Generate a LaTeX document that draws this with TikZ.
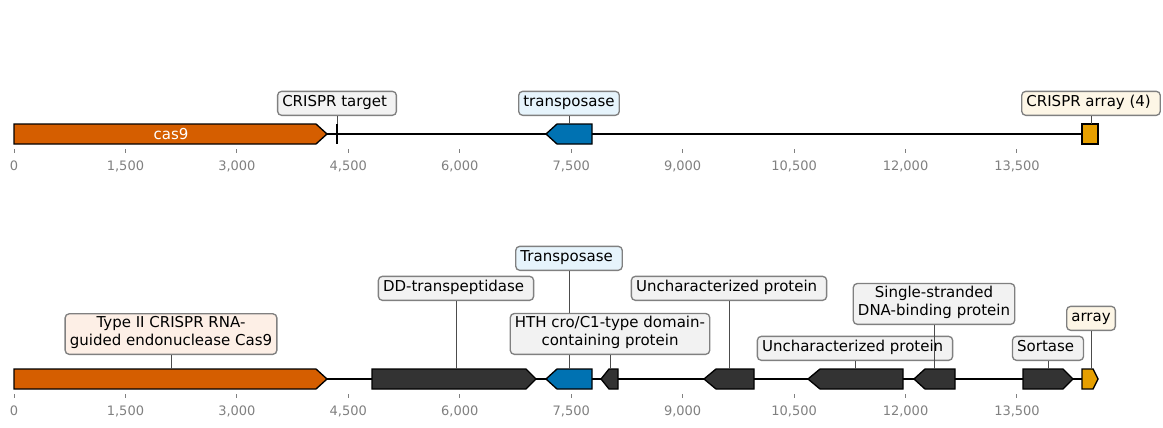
\documentclass[tikz,border=0pt]{standalone}
\usepackage{fontspec}
\setmainfont{DejaVu Sans}
\usepackage{xcolor}
\definecolor{CasOrange}{HTML}{D55E00}
\definecolor{TnpBlue}{HTML}{0072B2}
\definecolor{ArrGold}{HTML}{E69F00}
\definecolor{GeneDark}{HTML}{333333}
\definecolor{BoxGray}{HTML}{F2F2F2}
\definecolor{BoxBlue}{HTML}{E6F4FC}
\definecolor{BoxOrange}{HTML}{FDEFE6}
\definecolor{BoxGold}{HTML}{FDF6E6}
\usepackage{tikz}

\begin{document}
\begin{tikzpicture}[x=0.75pt, y=-0.75pt, line join=miter,
    gene/.style={draw=black, line width=1pt},
    track/.style={draw=black, line width=1.5pt},
    lbl/.style={
    draw=gray,
    fill=BoxGray,
    rounded corners=3pt,
    line width=1pt,
    anchor=south,
    align=center,
    inner xsep=3.5pt,
    inner ysep=2.25pt,
    font=\fontsize{11.25}{13.5}\selectfont,
    execute at begin node=\strut,
    execute at end node=\strut},
    link/.style={draw=black!70, line width=0.75pt},
    axtick/.style={draw=gray, line width=0.75pt},
    axlbl/.style={text=gray, font=\fontsize{9.75}{11.7}\selectfont}]
    \useasboundingbox (0,0) rectangle (1163,428);

    % backbones
    \draw[track] (14,134) -- (1098,134);
    \draw[track] (14,379) -- (1098,379);

    % axes
    \foreach \v/\txt in {0/0, 1500/{1,500}, 3000/{3,000}, 4500/{4,500}, 6000/{6,000},
                         7500/{7,500}, 9000/{9,000}, 10500/{10,500}, 12000/{12,000}, 13500/{13,500}} {
        \draw[axtick] ({14+\v*0.074296},149) -- ({14+\v*0.074296},153);
        \node[axlbl] (TopTick\v) at ({14+\v*0.074296},166) {\txt};
        \draw[axtick] ({14+\v*0.074296},394) -- ({14+\v*0.074296},398);
        \node[axlbl] (BotTick\v) at ({14+\v*0.074296},411) {\txt};
    }

    % upper locus
    \draw[gene, fill=CasOrange] (14,124) -- (316,124) -- (327,134) -- (316,144) -- (14,144) -- cycle;
    \node[text=white, font=\fontsize{11.25}{13.5}\selectfont] (Cas9Name) at (171,134) {cas9};
    \draw[line width=1.5pt] (337,124) -- (337,144);
    \draw[gene, fill=TnpBlue] (546,134) -- (557,124) -- (592,124) -- (592,144) -- (557,144) -- cycle;
    \draw[gene, fill=ArrGold] (1082,124) rectangle (1098,144);

    \coordinate (TgtTop) at (337,124);
    \coordinate (TnpTop) at (569,124);
    \coordinate (ArrTop) at (1091,124);

    \node[lbl] (TgtLbl) at (337,116) {CRISPR target\ };
    \node[lbl, fill=BoxBlue] (TnpLbl) at (569,116) {transposase};
    \node[lbl, fill=BoxGold] (ArrLbl) at (1091,116) {CRISPR array (4)\ };

    \draw[link] (TgtLbl) -- (TgtTop);
    \draw[link] (TnpLbl) -- (TnpTop);
    \draw[link] (ArrLbl) -- (ArrTop);

    % lower locus
    \draw[gene, fill=CasOrange] (14,369) -- (316,369) -- (327,379) -- (316,389) -- (14,389) -- cycle;
    \draw[gene, fill=GeneDark] (372,369) -- (526,369) -- (536,379) -- (526,389) -- (372,389) -- cycle;
    \draw[gene, fill=TnpBlue] (546,379) -- (557,369) -- (592,369) -- (592,389) -- (557,389) -- cycle;
    \draw[gene, fill=GeneDark] (601,379) -- (609,369) -- (618,369) -- (618,389) -- (609,389) -- cycle;
    \draw[gene, fill=GeneDark] (704,379) -- (716,369) -- (754,369) -- (754,389) -- (716,389) -- cycle;
    \draw[gene, fill=GeneDark] (808,379) -- (820,369) -- (903,369) -- (903,389) -- (820,389) -- cycle;
    \draw[gene, fill=GeneDark] (914,379) -- (925,369) -- (955,369) -- (955,389) -- (925,389) -- cycle;
    \draw[gene, fill=GeneDark] (1023,369) -- (1063,369) -- (1073,379) -- (1063,389) -- (1023,389) -- cycle;
    \draw[gene, fill=ArrGold] (1082,369) -- (1093,369) -- (1098,379) -- (1093,389) -- (1082,389) -- cycle;

    \coordinate (Cas9Top) at (171,369);
    \coordinate (DdTop) at (456,369);
    \coordinate (Tnp2Top) at (569,369);
    \coordinate (HthTop) at (610,369);
    \coordinate (Unc1Top) at (729,369);
    \coordinate (Unc2Top) at (855,369);
    \coordinate (SsbTop) at (934,369);
    \coordinate (SrtTop) at (1048,369);
    \coordinate (Arr2Top) at (1091,369);

    \node[lbl, fill=BoxOrange] (Cas9Lbl) at (171,355) {Type II CRISPR RNA-\\guided endonuclease Cas9};
    \node[lbl] (DdLbl) at (456,301) {DD-transpeptidase\ };
    \node[lbl, fill=BoxBlue] (Tnp2Lbl) at (569,271) {Transposase\ };
    \draw[link] (Tnp2Lbl) -- (Tnp2Top);
    \node[lbl] (HthLbl) at (610,355) {HTH cro/C1-type domain-\\containing protein};
    \node[lbl] (Unc1Lbl) at (729,301) {Uncharacterized protein\ };
    \node[lbl] (Unc2Lbl) at (855,361) {Uncharacterized protein\ };
    \node[lbl] (SsbLbl) at (934,325) {Single-stranded\\DNA-binding protein};
    \node[lbl] (SrtLbl) at (1048,361) {Sortase\ };
    \node[lbl, fill=BoxGold] (Arr2Lbl) at (1091,331) {array};

    \draw[link] (Cas9Lbl) -- (Cas9Top);
    \draw[link] (DdLbl) -- (DdTop);
    \draw[link] (HthLbl) -- (HthTop);
    \draw[link] (Unc1Lbl) -- (Unc1Top);
    \draw[link] (Unc2Lbl) -- (Unc2Top);
    \draw[link] (SsbLbl) -- (SsbTop);
    \draw[link] (SrtLbl) -- (SrtTop);
    \draw[link] (Arr2Lbl) -- (Arr2Top);
\end{tikzpicture}
\end{document}
